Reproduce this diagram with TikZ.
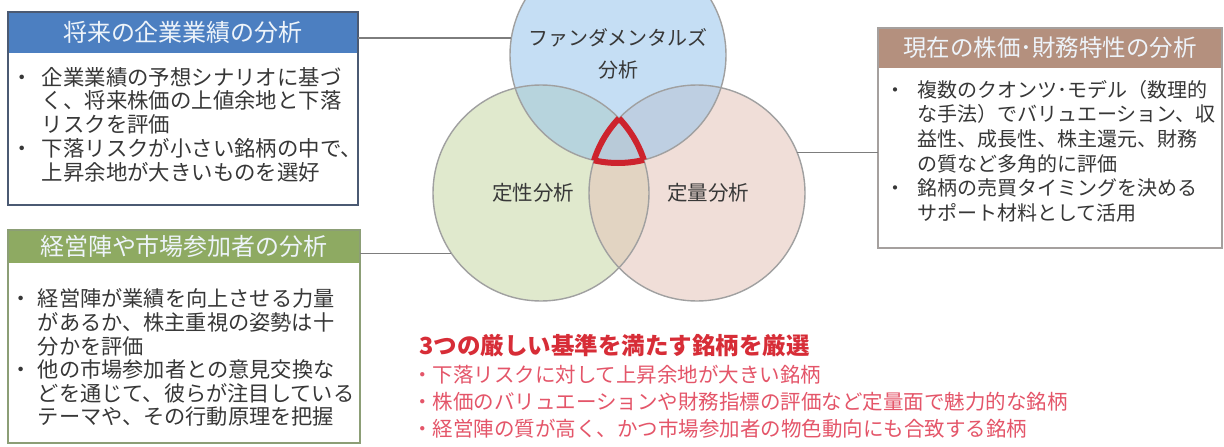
\documentclass[tikz,border=0pt]{standalone}
\usepackage{fontspec}
\newfontfamily\jp{Noto Sans CJK JP}
\definecolor{bhead}{RGB}{76,127,193}
\definecolor{bbord}{RGB}{75,90,115}
\definecolor{ghead}{RGB}{142,170,98}
\definecolor{gbord}{RGB}{140,158,118}
\definecolor{rhead}{RGB}{180,144,126}
\definecolor{rbord}{RGB}{165,160,158}
\definecolor{hdtxt}{RGB}{238,244,250}
\definecolor{bodytxt}{RGB}{55,55,55}
\definecolor{conn}{RGB}{125,125,125}
\definecolor{cedge}{RGB}{160,160,160}
\definecolor{bfill}{RGB}{150,195,235}
\definecolor{gfill}{RGB}{200,215,165}
\definecolor{pfill}{RGB}{228,195,185}
\definecolor{redl}{RGB}{205,35,45}
\definecolor{ttl}{RGB}{215,45,55}
\definecolor{btl}{RGB}{228,85,105}
\begin{document}
\begin{tikzpicture}[x=1pt,y=-1pt,
  vc/.style={circle, minimum size=216pt, inner sep=0pt, outer sep=0pt, fill opacity=0.55},
  vcedge/.style={draw=cedge, line width=1.4pt},
  boxst/.style={rectangle, inner sep=0pt, outer sep=0pt, anchor=north west, fill=white},
  hdr/.style={rectangle, inner sep=0pt, outer sep=0pt, anchor=north west, text=hdtxt, font=\jp\fontsize{24}{24}\selectfont},
  body/.style={anchor=north west, inner sep=0pt, outer sep=0pt, align=left, text=bodytxt},
  conline/.style={draw=conn, line width=1.6pt},
  clabel/.style={text=black!78, align=center, inner sep=0pt},
  redline/.style={draw=redl, line width=6pt}
]
\useasboundingbox (0,0) rectangle (1224,447);
\clip (0,0) rectangle (1224,447);
\fill[white] (0,0) rectangle (1224,447);

% Venn circles
\node[vc, fill=gfill] (gc) at (541,193) {};
\node[vc, fill=pfill] (pc) at (697,193) {};
\node[vc, fill=bfill] (bc) at (618,55) {};
\draw[vcedge] (gc.center) circle[radius=108];
\draw[vcedge] (pc.center) circle[radius=108];
\draw[vcedge] (bc.center) circle[radius=108];

% red outline of the triple intersection
\begin{scope}
  \clip (gc.center) circle[radius=108];
  \clip (pc.center) circle[radius=108];
  \draw[redline] (bc.center) circle[radius=108];
\end{scope}
\begin{scope}
  \clip (bc.center) circle[radius=108];
  \clip (pc.center) circle[radius=108];
  \draw[redline] (gc.center) circle[radius=108];
\end{scope}
\begin{scope}
  \clip (bc.center) circle[radius=108];
  \clip (gc.center) circle[radius=108];
  \draw[redline] (pc.center) circle[radius=108];
\end{scope}

% circle labels
\node[clabel, font=\jp\fontsize{20}{32}\selectfont] (bclab) at (618,54) {ファンダメンタルズ\\分析};
\node[clabel, font=\jp\fontsize{20.5}{24}\selectfont] (gclab) at (533,193) {定性分析};
\node[clabel, font=\jp\fontsize{20.5}{24}\selectfont] (pclab) at (708,193) {定量分析};

% Blue box
\node[boxst, minimum width=350pt, minimum height=193pt] (bbox) at (8,12) {};
\node[hdr, fill=bhead, minimum width=350pt, minimum height=41pt] (bhd) at (8,12) {将来の企業業績の分析};
\draw[draw=bbord, line width=2.4pt] (bbox.north west) rectangle (bbox.south east);
\node[body, font=\jp\fontsize{21.4}{23.8}\selectfont] (bbody) at (12,67) {%
\makebox[30pt][l]{・}企業業績の予想シナリオに基づ\\%
\hspace*{30pt}く、将来株価の上値余地と下落\\%
\hspace*{30pt}リスクを評価\\%
\makebox[30pt][l]{・}下落リスクが小さい銘柄の中で、\\%
\hspace*{30pt}上昇余地が大きいものを選好};

% Green box
\node[boxst, minimum width=352pt, minimum height=213pt] (gbox) at (8,230) {};
\node[hdr, fill=ghead, minimum width=352pt, minimum height=33pt] (ghd) at (8,230) {経営陣や市場参加者の分析};
\draw[draw=gbord, line width=2pt] (gbox.north west) rectangle (gbox.south east);
\node[body, font=\jp\fontsize{21.2}{23.6}\selectfont] (gbody) at (10,289) {%
\makebox[28pt][l]{・}経営陣が業績を向上させる力量\\%
\hspace*{28pt}があるか、株主重視の姿勢は十\\%
\hspace*{28pt}分かを評価\\%
\makebox[28pt][l]{・}他の市場参加者との意見交換な\\%
\hspace*{28pt}どを通じて、彼らが注目している\\%
\hspace*{28pt}テーマや、その行動原理を把握};

% Right (brown) box
\node[boxst, minimum width=344pt, minimum height=220pt] (rbox) at (878,28) {};
\node[hdr, fill=rhead, minimum width=344pt, minimum height=40pt, font=\jp\fontsize{23.5}{24}\selectfont] (rhd) at (878,28) {現在の株価･財務特性の分析};
\draw[draw=rbord, line width=1.8pt] (rbox.north west) rectangle (rbox.south east);
\node[body, font=\jp\fontsize{20}{24.7}\selectfont] (rbody) at (885,80) {%
\makebox[32pt][l]{・}複数のクオンツ･モデル（数理的\\%
\hspace*{32pt}な手法）でバリュエーション、収\\%
\hspace*{32pt}益性、成長性、株主還元、財務\\%
\hspace*{32pt}の質など多角的に評価\\%
\makebox[32pt][l]{・}銘柄の売買タイミングを決める\\%
\hspace*{32pt}サポート材料として活用};

% connectors
\draw[conline] (bc.171) -- (bc.171 -| bbox.east);
\draw[conline] (gc.214) -- (gc.214 -| gbox.east);
\draw[conline] (pc.22) -- (pc.22 -| rbox.west);

% bottom summary
\node[anchor=west, inner sep=0pt, text=ttl, font=\jp\bfseries\fontsize{23.5}{26}\selectfont] (ttl) at (419,346) {3つの厳しい基準を満たす銘柄を厳選};
\node[body, text=btl, font=\jp\fontsize{20.5}{27}\selectfont] (bl) at (412,365) {%
・下落リスクに対して上昇余地が大きい銘柄\\%
・株価のバリュエーションや財務指標の評価など定量面で魅力的な銘柄\\%
・経営陣の質が高く、かつ市場参加者の物色動向にも合致する銘柄};
\end{tikzpicture}
\end{document}
